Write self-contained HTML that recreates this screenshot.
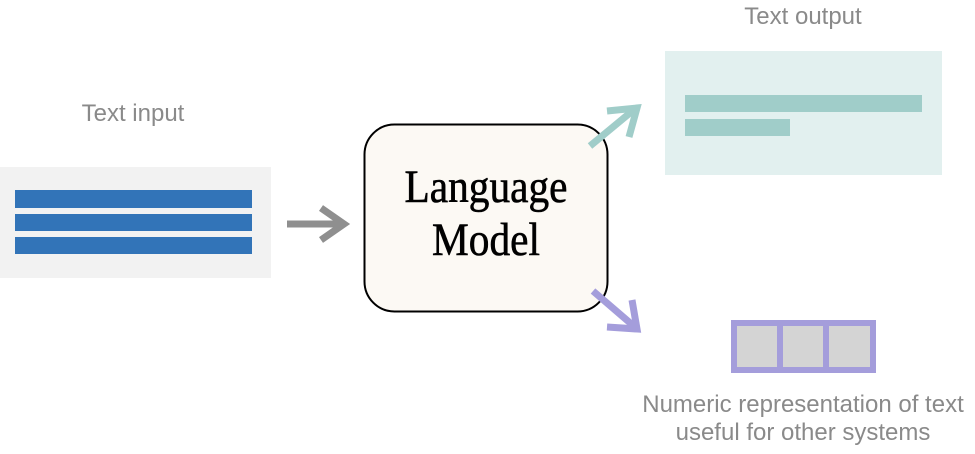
<!DOCTYPE html>
<html><head><style>
body{margin:0;background:#fff;width:975px;height:454px;overflow:hidden;position:relative;font-family:"Liberation Sans",sans-serif}
.l{position:absolute;color:#8a8a8a;font-size:24px;text-align:center;white-space:nowrap}
</style></head><body>
<div class="l" style="left:33px;top:100px;width:200px">Text input</div>
<div class="l" style="left:703px;top:3px;width:200px">Text output</div>
<div class="l" style="left:603px;top:391px;width:400px;line-height:28px">Numeric representation of text<br>useful for other systems</div>
<svg width="975" height="454" style="position:absolute;left:0;top:0">
<rect x="0" y="167" width="271" height="111" fill="#f2f2f2"/>
<rect x="15" y="190" width="237" height="18" fill="#3274b8"/>
<rect x="15" y="214" width="237" height="17" fill="#3274b8"/>
<rect x="15" y="237" width="237" height="17" fill="#3274b8"/>
<rect x="665" y="51" width="277" height="124" fill="#e2f0ef"/>
<rect x="685" y="95" width="237" height="17" fill="#a0cdc9"/>
<rect x="685" y="119" width="105" height="17" fill="#a0cdc9"/>
<rect x="364.5" y="124.5" width="243" height="187" rx="30" fill="#fcf9f4" stroke="#000" stroke-width="2"/>
<g font-family="Liberation Serif,serif" font-size="47" stroke="#000" stroke-width="0.6" transform="translate(486 0) scale(0.88 1) translate(-486 0)">
<text x="486" y="202" text-anchor="middle">Language</text>
<text x="486" y="255" text-anchor="middle">Model</text></g>
<g stroke="#8f8f8f" stroke-width="7" fill="none">
<line x1="287" y1="224" x2="343" y2="224"/><polyline points="321,208 344,224 321,240"/></g>
<g stroke="#a0cdc9" stroke-width="7" fill="none">
<line x1="590" y1="146" x2="636" y2="108"/><polyline points="607,111 637,108 629,137"/></g>
<g stroke="#a49ddb" stroke-width="7" fill="none">
<line x1="593" y1="291" x2="636" y2="328"/><polyline points="607,327 637,329 632,300"/></g>
<rect x="734" y="323" width="139" height="47" fill="#d4d4d4" stroke="#a49ddb" stroke-width="6"/>
<line x1="780" y1="323" x2="780" y2="370" stroke="#a49ddb" stroke-width="6"/>
<line x1="826" y1="323" x2="826" y2="370" stroke="#a49ddb" stroke-width="6"/>
</svg>
</body></html>
